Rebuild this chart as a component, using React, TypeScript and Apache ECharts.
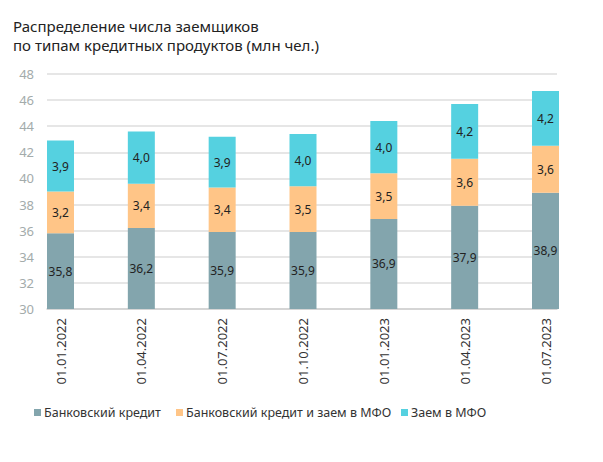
import React, { useEffect, useRef } from "react";
import * as echarts from "echarts";

const categories = ["01.01.2022", "01.04.2022", "01.07.2022", "01.10.2022", "01.01.2023", "01.04.2023", "01.07.2023"];
const bankCredit = [35.8, 36.2, 35.9, 35.9, 36.9, 37.9, 38.9];
const bankAndMfo = [3.2, 3.4, 3.4, 3.5, 3.5, 3.6, 3.6];
const mfoLoan = [3.9, 4.0, 3.9, 4.0, 4.0, 4.2, 4.2];
const seriesNames = ["Банковский кредит", "Банковский кредит и заем в МФО", "Заем в МФО"];
const yTicks = [30, 32, 34, 36, 38, 40, 42, 44, 46, 48];

const FONT = "Noto Sans";
const colors = ["#83A5AD", "#FFC587", "#55D1E0"];
const legendLefts = [34, 176, 401];

export default function App() {
  const ref = useRef<HTMLDivElement>(null);
  useEffect(() => {
    if (!ref.current) return;
    const chart = echarts.init(ref.current, null, { renderer: "svg" });
    const mk = (name: string, vals: number[], i: number) => ({
      name,
      type: "bar",
      stack: "total",
      barWidth: 27,
      xAxisIndex: 1,
      yAxisIndex: 1,
      data: vals,
      itemStyle: { color: colors[i] },
      label: {
        show: true,
        position: "inside",
        color: "#222",
        fontFamily: FONT,
        fontSize: 12,
        formatter: (p: any) => Number(p.value).toFixed(1).replace(".", ","),
      },
    });
    const yBase = {
      type: "value",
      min: yTicks[0],
      max: yTicks[yTicks.length - 1],
      interval: 2,
      axisLine: { show: false },
      axisTick: { show: false },
    };
    chart.setOption({
      animation: false,
      color: colors,
      textStyle: { fontFamily: FONT },
      title: {
        text: "Распределение числа заемщиков\nпо типам кредитных продуктов (млн чел.)",
        left: 8,
        top: 11,
        textStyle: { fontFamily: FONT, fontSize: 15, fontWeight: "normal", color: "#222", lineHeight: 19 },
      },
      legend: seriesNames.map((n, i) => ({
        left: legendLefts[i],
        top: 406,
        padding: 0,
        icon: "rect",
        itemWidth: 7,
        itemHeight: 7,
        textStyle: { fontFamily: FONT, fontSize: 12.5, color: "#333", padding: [0, 0, 0, -2] },
        data: [n],
      })),
      grid: [
        { left: 47, right: 46, top: 74, bottom: 153 },
        { left: 60.5, right: 57.5, top: 74, bottom: 153 },
      ],
      xAxis: [
        {
          type: "category",
          gridIndex: 0,
          data: categories,
          axisTick: { show: false },
          axisLabel: { show: false },
          axisLine: { show: true, lineStyle: { color: "#cfcfcf", width: 1.5 } },
        },
        {
          type: "category",
          gridIndex: 1,
          data: categories,
          boundaryGap: false,
          axisTick: { show: false },
          axisLine: { show: false },
          axisLabel: {
            rotate: 90,
            margin: 9,
            color: "#333",
            fontFamily: FONT,
            fontSize: 13,
          },
        },
      ],
      yAxis: [
        {
          ...yBase,
          gridIndex: 0,
          splitLine: { lineStyle: { color: "#dedede", width: 1.5 } },
          axisLabel: { color: "#a3abab", fontFamily: FONT, fontSize: 13, margin: 13 },
        },
        {
          ...yBase,
          gridIndex: 1,
          splitLine: { show: false },
          axisLabel: { show: false },
        },
      ],
      series: [mk(seriesNames[0], bankCredit, 0), mk(seriesNames[1], bankAndMfo, 1), mk(seriesNames[2], mfoLoan, 2)],
    });
    return () => chart.dispose();
  }, []);
  return <div ref={ref} style={{ position: "absolute", left: 0, top: 0, width: 603, height: 462 }} />;
}
